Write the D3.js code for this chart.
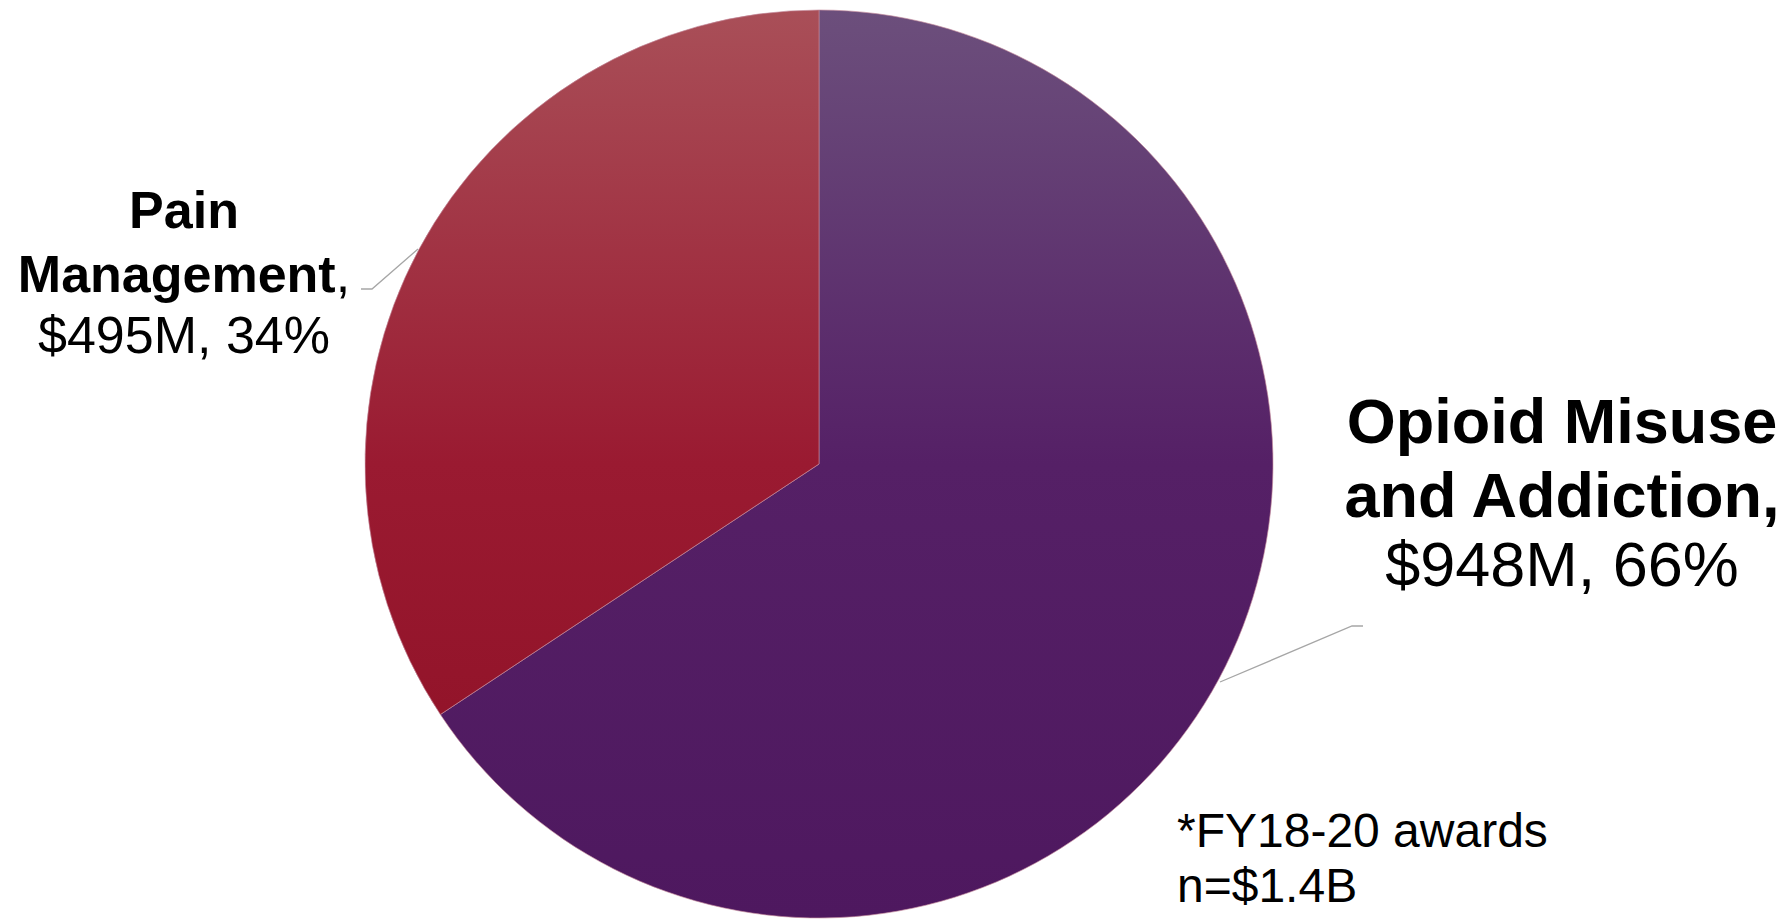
<!DOCTYPE html>
<html>
<head>
<meta charset="utf-8">
<script src="https://cdn.jsdelivr.net/npm/d3@7"></script>
<style>
  html, body { margin: 0; padding: 0; background: #fff; }
  svg { display: block; font-family: "Liberation Sans", Arial, sans-serif; }
</style>
</head>
<body>
<div id="chart"></div>
<script>
// Data
const categories = ["Opioid Misuse and Addiction", "Pain Management"];
const amounts = [948, 495];          // $M
const percents = ["66%", "34%"];
const footnote = ["*FY18-20 awards", "n=$1.4B"];

const width = 1792, height = 919;
const cx = 819, cy = 464, radius = 454;

const svg = d3.select("#chart")
  .append("svg")
  .attr("width", width)
  .attr("height", height);

// gradients (lighter at top), coords are local to the pie group
const defs = svg.append("defs");
const grads = [
  { id: "gPurple", top: "#6c4f7c", mid: "#552066", bot: "#4e185f" },
  { id: "gRed", top: "#a94f58", mid: "#9a1a31", bot: "#8d0f24" }
];
grads.forEach(g => {
  const lg = defs.append("linearGradient")
    .attr("id", g.id)
    .attr("gradientUnits", "userSpaceOnUse")
    .attr("x1", 0).attr("y1", -radius)
    .attr("x2", 0).attr("y2", radius);
  lg.append("stop").attr("offset", "0").attr("stop-color", g.top);
  lg.append("stop").attr("offset", "0.5").attr("stop-color", g.mid);
  lg.append("stop").attr("offset", "1").attr("stop-color", g.bot);
});

const pie = d3.pie().sort(null).value(d => d);
const arc = d3.arc().innerRadius(0).outerRadius(radius);

const g = svg.append("g").attr("transform", `translate(${cx},${cy})`);
g.selectAll("path")
  .data(pie(amounts))
  .enter()
  .append("path")
  .attr("d", arc)
  .attr("fill", (d, i) => `url(#${grads[i].id})`)
  .attr("stroke", "#c48a9c")
  .attr("stroke-width", 0.8)
  .attr("stroke-opacity", 0.8);

// leader lines
const leaders = [
  [[1220, 682], [1352, 626], [1363, 626]],
  [[418, 249], [372, 289], [361, 289]]
];
svg.selectAll(".leader")
  .data(leaders)
  .enter()
  .append("polyline")
  .attr("points", d => d.map(p => p.join(",")).join(" "))
  .attr("fill", "none")
  .attr("stroke", "#a6a6a6")
  .attr("stroke-width", 1.3);

// Opioid label
const op = svg.append("text")
  .attr("text-anchor", "middle")
  .attr("font-size", 63)
  .attr("fill", "#000");
op.append("tspan").attr("x", 1562).attr("y", 443).attr("font-weight", "bold").text("Opioid Misuse");
const op2 = op.append("tspan").attr("x", 1562).attr("y", 517);
op2.append("tspan").attr("font-weight", "bold").text("and Addiction");
op2.append("tspan").attr("font-weight", "bold").text(",");
op.append("tspan").attr("x", 1562).attr("y", 586).text(`$${amounts[0]}M, ${percents[0]}`);

// Pain label
const pm = svg.append("text")
  .attr("text-anchor", "middle")
  .attr("font-size", 52)
  .attr("fill", "#000");
pm.append("tspan").attr("x", 184).attr("y", 228).attr("font-weight", "bold").text("Pain");
const pm2 = pm.append("tspan").attr("x", 184).attr("y", 292);
pm2.append("tspan").attr("font-weight", "bold").text("Management");
pm2.append("tspan").text(",");
pm.append("tspan").attr("x", 184).attr("y", 353).text(`$${amounts[1]}M, ${percents[1]}`);

// footnote
svg.selectAll(".foot")
  .data(footnote)
  .enter()
  .append("text")
  .attr("x", 1177)
  .attr("y", (d, i) => 847 + i * 55)
  .attr("font-size", 48)
  .attr("fill", "#000")
  .text(d => d);
</script>
</body>
</html>
